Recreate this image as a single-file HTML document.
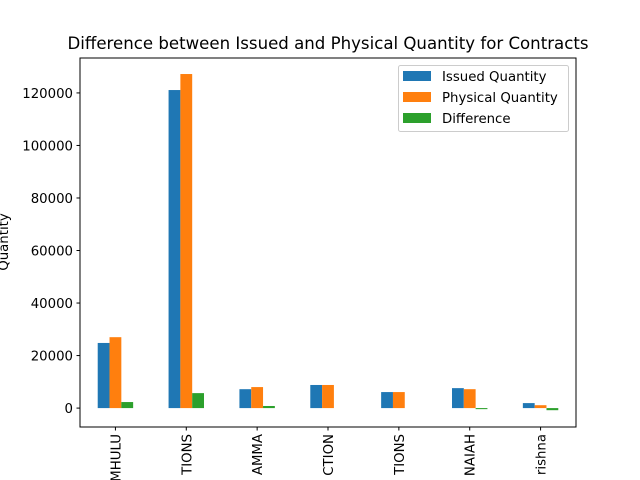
<!DOCTYPE html>
<html><head><meta charset="utf-8"><style>
html,body{margin:0;background:#fff;width:640px;height:480px;overflow:hidden}
svg{display:block}
svg text{font-family:"DejaVu Sans","Liberation Sans",sans-serif;fill:#000}
</style></head><body>
<svg id="c" width="640" height="480" xmlns="http://www.w3.org/2000/svg" overflow="hidden">
<defs><clipPath id="clipAll"><rect width="640" height="480"/></clipPath></defs>
<rect width="640" height="480" fill="#fff"/>
<text x="328" y="49" font-size="16.6" text-anchor="middle">Difference between Issued and Physical Quantity for Contracts</text>
<text transform="translate(8,242) rotate(-90)" font-size="13.3" text-anchor="middle">Quantity</text>
<g id="yt"></g><g id="bars"></g><g id="xt" clip-path="url(#clipAll)"></g>
<rect x="80" y="58" width="496" height="369" fill="none" stroke="#000" stroke-width="1"/>
<g>
<rect x="398.5" y="65.5" width="170" height="66" rx="2" fill="#fff" fill-opacity="0.8" stroke="#ccc"/>
<rect x="403" y="71" width="28" height="10" fill="#1f77b4"/>
<text x="442" y="81" font-size="13.3">Issued Quantity</text>
<rect x="403" y="92" width="28" height="10" fill="#ff7f0e"/>
<text x="442" y="102" font-size="13.3">Physical Quantity</text>
<rect x="403" y="113" width="28" height="10" fill="#2ca02c"/>
<text x="442" y="123" font-size="13.3">Difference</text>
</g>
</svg>
<script>
const categories=["MHULU","TIONS","AMMA","CTION","TIONS","NAIAH","rishna"];
const issued=[24800,121100,7200,8800,6100,7600,1900];
const physical=[27000,127200,8000,8800,6100,7200,1100];
const difference=[2300,5700,800,0,0,-400,-800];
const yTicks=[0,20000,40000,60000,80000,100000,120000];
const NS="http://www.w3.org/2000/svg";
const X0=80,W=496,ymin=-7200,ymax=133300,yTop=58,yBot=427;
const yS=v=>yBot-(v-ymin)/(ymax-ymin)*(yBot-yTop);
const xS=i=>X0+(i+0.5)/categories.length*W;
const bw=W/categories.length/6;
function mk(t,a,p){const e=document.createElementNS(NS,t);for(const k in a)e.setAttribute(k,a[k]);p.appendChild(e);return e;}
const ytG=document.getElementById('yt');
yTicks.forEach(v=>{
  const l=mk('line',{x1:76.5,x2:80,y1:yS(v),y2:yS(v),stroke:'#000'},ytG);
  
  
  const t=mk('text',{x:73,y:yS(v)+5,'font-size':13.3,'text-anchor':'end'},ytG);
  t.textContent=v;
  
  
});
const barsG=document.getElementById('bars');
const xtG=document.getElementById('xt');
const series=[[issued,'#1f77b4','issued'],[physical,'#ff7f0e','physical'],[difference,'#2ca02c','difference']];
categories.forEach((c,i)=>{
  series.forEach(([arr,col,nm],j)=>{
    const v=arr[i];const y1=yS(Math.max(v,0)),y2=yS(Math.min(v,0));
    const r=mk('rect',{x:xS(i)+(j-1.5)*bw,y:y1,width:bw,height:Math.max(y2-y1,0),fill:col},barsG);
    
    
  });
  const l=mk('line',{x1:xS(i),x2:xS(i),y1:427,y2:430.5,stroke:'#000'},xtG);
  
  
  const t=mk('text',{transform:`translate(${xS(i)+5},434) rotate(-90)`,'font-size':13.3,'text-anchor':'end'},xtG);
  t.textContent=c;
  
  
});
</script>
</body></html>
